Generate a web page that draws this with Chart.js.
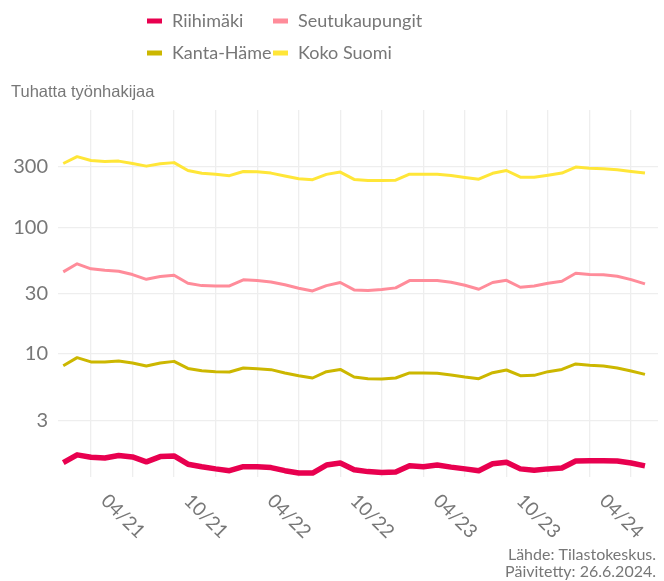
<!DOCTYPE html>
<html>
<head>
<meta charset="utf-8">
<script src="https://cdn.jsdelivr.net/npm/chart.js@4"></script>
<style>
  body { margin: 0; background: #fff; }
  #wrap { width: 664px; height: 581px; position: relative; }
</style>
</head>
<body>
<div id="wrap"><canvas id="chart"></canvas></div>
<script>
// kuukaudet 02/21 - 08/24
const months = [
  "02/21","03/21","04/21","05/21","06/21","07/21","08/21","09/21","10/21","11/21","12/21",
  "01/22","02/22","03/22","04/22","05/22","06/22","07/22","08/22","09/22","10/22","11/22","12/22",
  "01/23","02/23","03/23","04/23","05/23","06/23","07/23","08/23","09/23","10/23","11/23","12/23",
  "01/24","02/24","03/24","04/24","05/24","06/24","07/24","08/24"
];
const tickLabels = ["04/21","10/21","04/22","10/22","04/23","10/23","04/24"];
const gridMonths = ["01","04","07","10"];
const yTicks = [3, 10, 30, 100, 300];

// tuhatta työnhakijaa
const riihimaki = [1.39,1.60,1.53,1.51,1.58,1.54,1.41,1.55,1.57,1.35,1.29,1.24,1.20,1.29,1.29,1.27,1.20,1.15,1.15,1.33,1.38,
  1.22,1.18,1.16,1.17,1.31,1.29,1.33,1.28,1.24,1.20,1.36,1.40,1.24,1.21,1.24,1.26,1.43,1.44,1.44,1.43,1.38,1.31];
const seutukaupungit = [44.4,51.4,46.9,45.7,44.9,42.3,38.8,40.8,41.8,36.1,34.6,34.4,34.4,38.4,37.9,37.0,35.1,33.0,31.4,34.6,36.6,
  32.0,31.6,32.2,33.2,37.9,37.9,37.9,36.8,34.8,32.4,36.6,38.1,33.6,34.4,36.1,37.5,43.3,42.3,42.1,41.0,38.6,35.7];
const kantaHame = [8.08,9.35,8.65,8.65,8.81,8.49,8.04,8.49,8.74,7.69,7.38,7.25,7.21,7.75,7.65,7.52,7.08,6.74,6.46,7.25,7.55,
  6.58,6.38,6.35,6.46,7.08,7.08,7.03,6.83,6.58,6.38,7.11,7.47,6.74,6.78,7.25,7.55,8.34,8.13,8.04,7.75,7.34,6.90];
const kokoSuomi = [318,360,336,329,332,318,303,317,323,280,266,261,255,275,274,267,253,241,237,261,272,
  238,233,233,235,262,261,261,256,247,239,266,280,248,248,257,267,298,291,289,284,275,267];

const textColor = "#777777";
const gridColor = "#eeeeee";

function toPoints(arr) {
  return arr.map((v, i) => ({ x: i, y: v }));
}

// legenda, akselin otsikko, x-akselin kääntyneet tekstit ja lähde
const extras = {
  id: "extras",
  afterDraw(chart) {
    const ctx = chart.ctx;
    const xs = chart.scales.x;
    ctx.save();

    // x-akselin tekstit (käännetty myötäpäivään)
    ctx.fillStyle = textColor;
    ctx.font = "19px Lato";
    ctx.textAlign = "left";
    ctx.textBaseline = "alphabetic";
    tickLabels.forEach((lab) => {
      const px = xs.getPixelForValue(months.indexOf(lab));
      ctx.save();
      ctx.translate(px + 9, 502);
      ctx.rotate(Math.PI / 4);
      ctx.fillText(lab, 0, 0);
      ctx.restore();
    });

    // legenda 2x2
    const cols = [147, 273];
    const rows = [21, 53];
    ctx.font = "18px Lato";
    ctx.textBaseline = "middle";
    chart.data.datasets.forEach((ds, i) => {
      const cx = cols[i % 2];
      const cy = rows[Math.floor(i / 2)];
      ctx.fillStyle = ds.borderColor;
      ctx.fillRect(cx, cy - 2.5, 15, 5);
      ctx.fillStyle = textColor;
      ctx.fillText(ds.label, cx + 25, cy);
    });

    // akselin otsikko
    ctx.font = "16.5px 'Liberation Sans'";
    ctx.textBaseline = "alphabetic";
    ctx.fillStyle = textColor;
    ctx.fillText("Tuhatta työnhakijaa", 11, 97);

    // lähde
    ctx.font = "16px Lato";
    ctx.textAlign = "right";
    ctx.fillText("Lähde: Tilastokeskus.", 656, 560);
    ctx.fillText("Päivitetty: 26.6.2024.", 656, 577);

    ctx.restore();
  }
};

new Chart(document.getElementById("chart"), {
  type: "line",
  data: {
    datasets: [
      { label: "Riihimäki", data: toPoints(riihimaki), borderColor: "#e8004f", borderWidth: 5.5 },
      { label: "Seutukaupungit", data: toPoints(seutukaupungit), borderColor: "#ff8c9a", borderWidth: 3 },
      { label: "Kanta-Häme", data: toPoints(kantaHame), borderColor: "#ccb700", borderWidth: 3 },
      { label: "Koko Suomi", data: toPoints(kokoSuomi), borderColor: "#ffe638", borderWidth: 3 }
    ]
  },
  options: {
    responsive: true,
    maintainAspectRatio: false,
    animation: false,
    layout: { padding: { top: 110, right: 6, left: 0, bottom: 0 } },
    elements: {
      point: { radius: 0 },
      line: { tension: 0, borderCapStyle: "butt", borderJoinStyle: "round" }
    },
    plugins: {
      legend: { display: false },
      tooltip: { enabled: false }
    },
    scales: {
      x: {
        type: "linear",
        min: -0.38,
        max: 42.94,
        afterBuildTicks: (scale) => {
          scale.ticks = months
            .map((m, i) => ({ m, i }))
            .filter((d) => gridMonths.includes(d.m.slice(0, 2)))
            .map((d) => ({ value: d.i }));
        },
        afterFit: (scale) => { scale.height = 104; },
        ticks: { display: false },
        grid: { color: gridColor, lineWidth: 1.3, drawTicks: false },
        border: { display: false }
      },
      y: {
        type: "logarithmic",
        min: 1.07,
        max: 840,
        afterBuildTicks: (scale) => {
          scale.ticks = yTicks.map((v) => ({ value: v }));
        },
        afterFit: (scale) => { scale.width = 58; },
        ticks: {
          color: textColor,
          font: { family: "Lato", size: 20 },
          padding: 10,
          callback: (v) => String(v)
        },
        grid: { color: gridColor, lineWidth: 1.3, drawTicks: false },
        border: { display: false }
      }
    }
  },
  plugins: [extras]
});
</script>
</body>
</html>
